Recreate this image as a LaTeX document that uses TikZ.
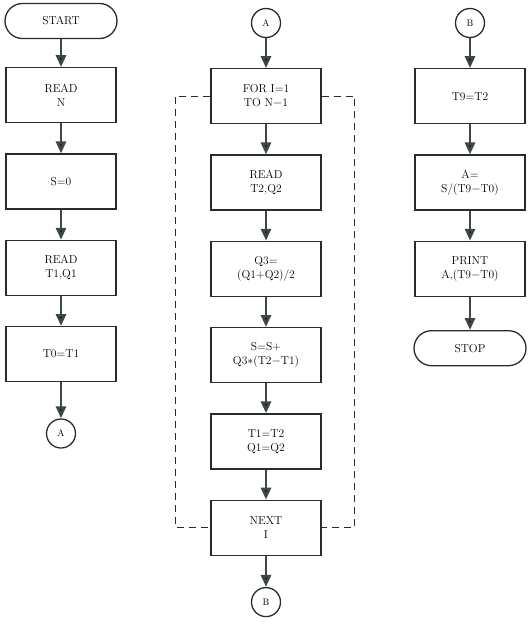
\documentclass[tikz,border=0pt]{standalone}
\usepackage{tikz}
\usetikzlibrary{positioning,arrows.meta}
\definecolor{flowgray}{HTML}{3d4842}
\definecolor{inkgray}{HTML}{2b2b2b}

\begin{document}
\begin{tikzpicture}[x=1pt, y=1pt,
   box/.style={rectangle, draw=inkgray, line width=1.3pt, minimum width=110pt,
     minimum height=55pt, align=center, inner sep=2pt,
     font=\fontsize{11.5}{14}\selectfont},
   term/.style={rectangle, draw=inkgray, line width=1.3pt, rounded corners=17.5pt,
     minimum width=112pt, minimum height=35pt, font=\fontsize{11.5}{14}\selectfont},
   conn/.style={circle, draw=inkgray, line width=1.3pt, minimum size=29pt,
     inner sep=0pt, font=\fontsize{9.5}{11}\selectfont},
   flow/.style={-{Triangle[length=12pt,width=10pt]}, line width=2.8pt, draw=flowgray},
   loopline/.style={draw=inkgray, line width=1.2pt, dash pattern=on 7pt off 5pt},
   node distance=30pt]
   \useasboundingbox (0,0) rectangle (528,-626);

   % left column
   \node[term] (start) at (61,-21) {START};
   \node[box] (readn) [below=28pt of start] {READ\\N};
   \node[box] (szero) [below=of readn] {S=0};
   \node[box] (readtq) [below=of szero] {READ\\T1,Q1};
   \node[box] (tzero) [below=of readtq] {T0=T1};
   \node[conn] (outa) [below=36pt of tzero] {A};

   % middle column
   \node[conn] (ina) at (266,-23) {A};
   \node[box] (fori) [below=30pt of ina] {FOR I=1\\TO N$-$1};
   \node[box] (readtqtwo) [below=of fori] {READ\\T2,Q2};
   \node[box] (qthree) [below=of readtqtwo] {Q3=\\(Q1+Q2)/2};
   \node[box] (sum) [below=of qthree] {S=S+\\Q3$*$(T2$-$T1)};
   \node[box] (shift) [below=of sum] {T1=T2\\Q1=Q2};
   \node[box] (nexti) [below=of shift] {NEXT\\I};
   \node[conn] (outb) [below=31pt of nexti] {B};

   % right column
   \node[conn] (inb) at (470,-23) {B};
   \node[box] (tnine) [below=30pt of inb] {T9=T2};
   \node[box] (avg) [below=of tnine] {A=\\S/(T9$-$T0)};
   \node[box] (print) [below=of avg] {PRINT\\A,(T9$-$T0)};
   \node[term] (stop) [below=33pt of print] {STOP};

   \path[flow]
     (start) edge (readn)
     (readn) edge (szero)
     (szero) edge (readtq)
     (readtq) edge (tzero)
     (tzero) edge (outa)
     (ina) edge (fori)
     (fori) edge (readtqtwo)
     (readtqtwo) edge (qthree)
     (qthree) edge (sum)
     (sum) edge (shift)
     (shift) edge (nexti)
     (nexti) edge (outb)
     (inb) edge (tnine)
     (tnine) edge (avg)
     (avg) edge (print)
     (print) edge (stop);

   \draw[loopline] (fori.west) -- ++(-35,0) |- (nexti.west);
   \draw[loopline] (fori.east) -- ++(33,0) |- (nexti.east);
\end{tikzpicture}
\end{document}
